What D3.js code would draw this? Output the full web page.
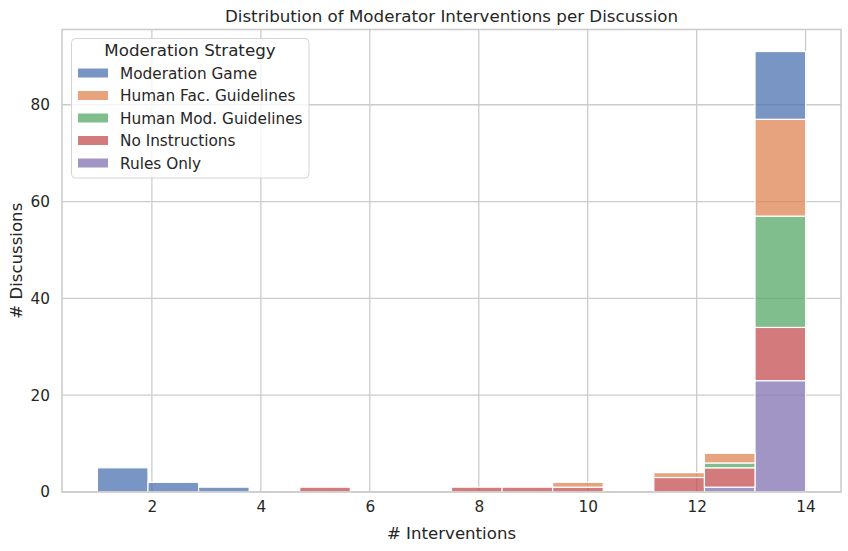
<!DOCTYPE html>
<html>
<head>
<meta charset="utf-8">
<script src="https://cdn.jsdelivr.net/npm/d3@7"></script>
<style>
  html, body { margin: 0; padding: 0; background: #fff; }
  svg { display: block; font-family: "DejaVu Sans", sans-serif; }
</style>
</head>
<body>
<svg id="chart" width="848" height="551"></svg>
<script>
// ---- Data ----
const strategies = ["Moderation Game", "Human Fac. Guidelines", "Human Mod. Guidelines", "No Instructions", "Rules Only"];
const colors = ["#4C72B0", "#DD8452", "#55A868", "#C44E52", "#8172B3"];
const binStart = 1, binEnd = 14, binCount = 14;
// counts per bin (14 bins from 1 to 14)
const moderationGame     = [5, 2, 1, 0, 0, 0, 0, 0, 0, 0, 0, 0, 0, 14];
const humanFacGuidelines = [0, 0, 0, 0, 0, 0, 0, 0, 0, 1, 0, 1, 2, 20];
const humanModGuidelines = [0, 0, 0, 0, 0, 0, 0, 0, 0, 0, 0, 0, 1, 23];
const noInstructions     = [0, 0, 0, 0, 1, 0, 0, 1, 1, 1, 0, 3, 4, 11];
const rulesOnly          = [0, 0, 0, 0, 0, 0, 0, 0, 0, 0, 0, 0, 1, 23];
const seriesValues = [moderationGame, humanFacGuidelines, humanModGuidelines, noInstructions, rulesOnly];
const xTicks = [2, 4, 6, 8, 10, 12, 14];
const yTicks = [0, 20, 40, 60, 80];
const title = "Distribution of Moderator Interventions per Discussion";
const xLabel = "# Interventions";
const yLabel = "# Discussions";
const legendTitle = "Moderation Strategy";

// ---- Layout ----
const svg = d3.select("#chart");
const pL = 62, pR = 841, pT = 29.5, pB = 492;
const binW = (binEnd - binStart) / binCount;
const pad = (binEnd - binStart) * 0.05;
const x = d3.scaleLinear().domain([binStart - pad, binEnd + pad]).range([pL, pR]);

// stacked totals (stack from last hue to first)
const rows = d3.range(binCount).map(i => {
  const r = { bin: i };
  strategies.forEach((s, k) => r[s] = seriesValues[k][i]);
  return r;
});
const stackOrder = strategies.slice().reverse();
const stacked = d3.stack().keys(stackOrder)(rows);
const maxTotal = d3.max(rows, r => d3.sum(strategies, s => r[s]));
const y = d3.scaleLinear().domain([0, maxTotal * 1.05]).range([pB, pT]);

const textColor = "#262626";
const gridColor = "#cccccc";

// grid
const g = svg.append("g");
g.selectAll("line.gx").data(xTicks).enter().append("line")
  .attr("x1", d => x(d)).attr("x2", d => x(d))
  .attr("y1", pT).attr("y2", pB)
  .attr("stroke", gridColor).attr("stroke-width", 1.3);
g.selectAll("line.gy").data(yTicks).enter().append("line")
  .attr("x1", pL).attr("x2", pR)
  .attr("y1", d => y(d)).attr("y2", d => y(d))
  .attr("stroke", gridColor).attr("stroke-width", 1.3);

// bars
stacked.forEach(layer => {
  const k = strategies.indexOf(layer.key);
  g.append("g").selectAll("rect").data(layer.filter(d => d[1] - d[0] > 0)).enter().append("rect")
    .attr("x", d => x(binStart + d.data.bin * binW))
    .attr("width", d => x(binStart + (d.data.bin + 1) * binW) - x(binStart + d.data.bin * binW))
    .attr("y", d => y(d[1]))
    .attr("height", d => y(d[0]) - y(d[1]))
    .attr("fill", colors[k]).attr("fill-opacity", 0.75)
    .attr("stroke", "#ffffff").attr("stroke-width", 1.2);
});

// spines
g.append("rect").attr("x", pL).attr("y", pT).attr("width", pR - pL).attr("height", pB - pT)
  .attr("fill", "none").attr("stroke", gridColor).attr("stroke-width", 1.6);

// axes with d3 axis (no tick marks)
const xAxis = d3.axisBottom(x).tickValues(xTicks).tickSize(0).tickPadding(9).tickFormat(d3.format("d"));
const xg = svg.append("g").attr("transform", `translate(0,${pB})`).call(xAxis);
xg.select(".domain").remove();
xg.selectAll("text").attr("fill", textColor).style("font-size", "15.3px").style("font-family", "DejaVu Sans");

const yAxis = d3.axisLeft(y).tickValues(yTicks).tickSize(0).tickPadding(12).tickFormat(d3.format("d"));
const yg = svg.append("g").attr("transform", `translate(${pL},0)`).call(yAxis);
yg.select(".domain").remove();
yg.selectAll("text").attr("fill", textColor).style("font-size", "15.3px").style("font-family", "DejaVu Sans");

// labels
svg.append("text").attr("x", (pL + pR) / 2).attr("y", 22).attr("text-anchor", "middle")
  .attr("fill", textColor).style("font-size", "16.7px").text(title);
svg.append("text").attr("x", (pL + pR) / 2).attr("y", 539).attr("text-anchor", "middle")
  .attr("fill", textColor).style("font-size", "16.6px").text(xLabel);
svg.append("text").attr("transform", `translate(22,${(pT + pB) / 2}) rotate(-90)`).attr("text-anchor", "middle")
  .attr("fill", textColor).style("font-size", "16.6px").text(yLabel);

// legend
const lg = svg.append("g");
lg.append("rect").attr("x", 71.5).attr("y", 38.5).attr("width", 237.5).attr("height", 139.5)
  .attr("rx", 4).attr("fill", "#ffffff").attr("fill-opacity", 0.8)
  .attr("stroke", "#d5d5d5").attr("stroke-width", 1);
lg.append("text").attr("x", 190).attr("y", 56).attr("text-anchor", "middle")
  .attr("fill", textColor).style("font-size", "16.7px").text(legendTitle);
strategies.forEach((s, i) => {
  const cy = 73.5 + i * 22.5;
  lg.append("rect").attr("x", 78).attr("y", cy - 5).attr("width", 30).attr("height", 9)
    .attr("fill", colors[i]).attr("fill-opacity", 0.75);
  lg.append("text").attr("x", 120).attr("y", cy + 5.3)
    .attr("fill", textColor).style("font-size", "15.3px").text(s);
});
</script>
</body>
</html>
